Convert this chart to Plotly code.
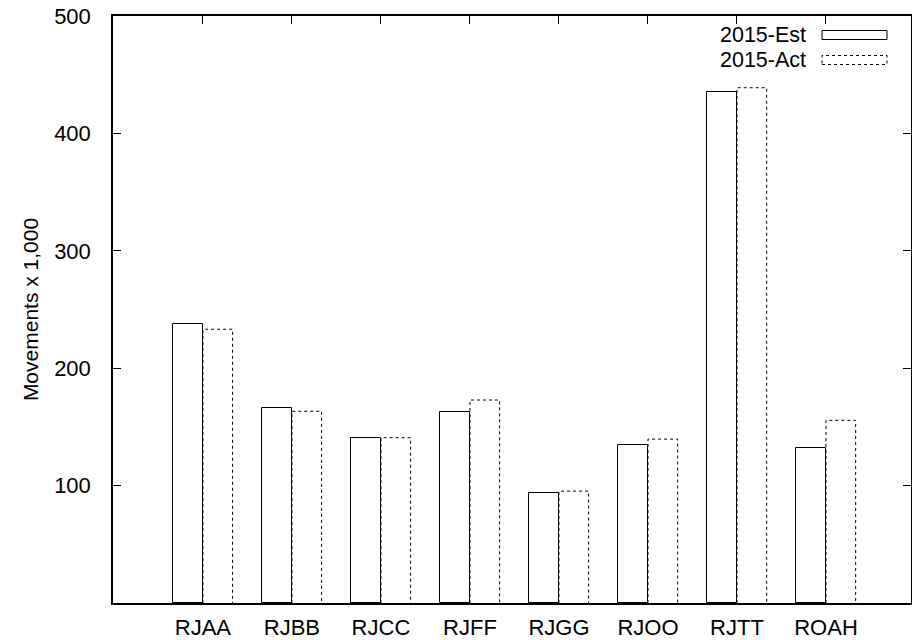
import plotly.graph_objects as go

# ---- data ----
airports = ["RJAA", "RJBB", "RJCC", "RJFF", "RJGG", "RJOO", "RJTT", "ROAH"]
est_2015 = [237.4, 165.8, 140.5, 162.7, 93.6, 134.3, 435.2, 131.7]
act_2015 = [233.2, 163.3, 140.8, 172.9, 95.3, 139.6, 438.9, 155.6]
series_names = ["2015-Est", "2015-Act"]
y_ticks = [100, 200, 300, 400, 500]
y_title = "Movements x 1,000"

# ---- layout geometry ----
W, H = 912, 640
ML, MR, MT, MB = 113, 1, 16, 37
PW, PH = W - ML - MR, H - MT - MB
FONT = "Liberation Sans, Arial, Helvetica, sans-serif"
FS = 22
BW = 1 / 3
DASH = "3px,3px"

idx = list(range(len(airports)))

fig = go.Figure()

fig.add_trace(go.Bar(
    x=idx, y=est_2015, width=BW, offset=-BW,
    marker=dict(color="white", line=dict(color="black", width=1)),
    name=series_names[0], showlegend=False, hoverinfo="x+y",
))
fig.add_trace(go.Bar(
    x=idx, y=act_2015, width=BW, offset=0,
    marker=dict(color="white", line=dict(color="white", width=0)),
    name=series_names[1], showlegend=False, hoverinfo="x+y",
))

# dotted outlines for the Act bars, built from data
ox, oy = [], []
for i, v in zip(idx, act_2015):
    ox += [i, i, i + BW, i + BW, None]
    oy += [0, v, v, 0, None]
fig.add_trace(go.Scatter(
    x=ox, y=oy, mode="lines",
    line=dict(color="black", width=1, dash=DASH),
    showlegend=False, hoverinfo="skip",
))

# ---- manual gnuplot-style legend (paper coords from pixels) ----
def px(xp):
    return (xp - ML) / PW

def py(yp):
    return 1 - (yp - MT) / PH

legend_rows = [(35, "solid"), (60, DASH)]
for (yc, dash), name in zip(legend_rows, series_names):
    fig.add_annotation(
        x=px(807), y=py(yc), xref="paper", yref="paper",
        text=name, showarrow=False, xanchor="right", yanchor="middle",
        borderpad=0,
        font=dict(family=FONT, size=21.5, color="black"),
    )
    fig.add_shape(
        type="rect", xref="paper", yref="paper",
        x0=px(822), x1=px(887), y0=py(yc + 4.5), y1=py(yc - 4.5),
        line=dict(color="black", width=1, dash=dash),
        fillcolor="white",
    )

fig.update_layout(
    width=W, height=H,
    margin=dict(l=ML, r=MR, t=MT, b=MB, pad=0, autoexpand=False),
    paper_bgcolor="white", plot_bgcolor="white",
    font=dict(family=FONT, size=FS, color="black"),
    bargap=0, showlegend=False,
)
fig.update_xaxes(
    range=[-1.01, 7.955], automargin=False,
    tickmode="array", tickvals=idx, ticktext=airports,
    ticks="inside", ticklen=8, tickcolor="black", tickwidth=1,
    showline=True, linecolor="black", linewidth=1.5, mirror="ticks",
    showgrid=False, zeroline=False,
    ticklabelstandoff=4,
    tickfont=dict(family=FONT, size=FS, color="black"),
)
fig.update_yaxes(
    range=[0, 500], automargin=False,
    tickmode="array", tickvals=y_ticks,
    ticks="inside", ticklen=8, tickcolor="black", tickwidth=1,
    showline=True, linecolor="black", linewidth=1.5, mirror="ticks",
    showgrid=False, zeroline=False,
    ticklabelstandoff=16,
    tickfont=dict(family=FONT, size=FS, color="black"),
    title=dict(text=y_title, font=dict(family=FONT, size=21, color="black"), standoff=10),
)

fig.write_html(
    "out.html",
    config={"displayModeBar": False},
    post_script="document.body.style.margin='0';document.body.style.overflow='hidden';",
)
